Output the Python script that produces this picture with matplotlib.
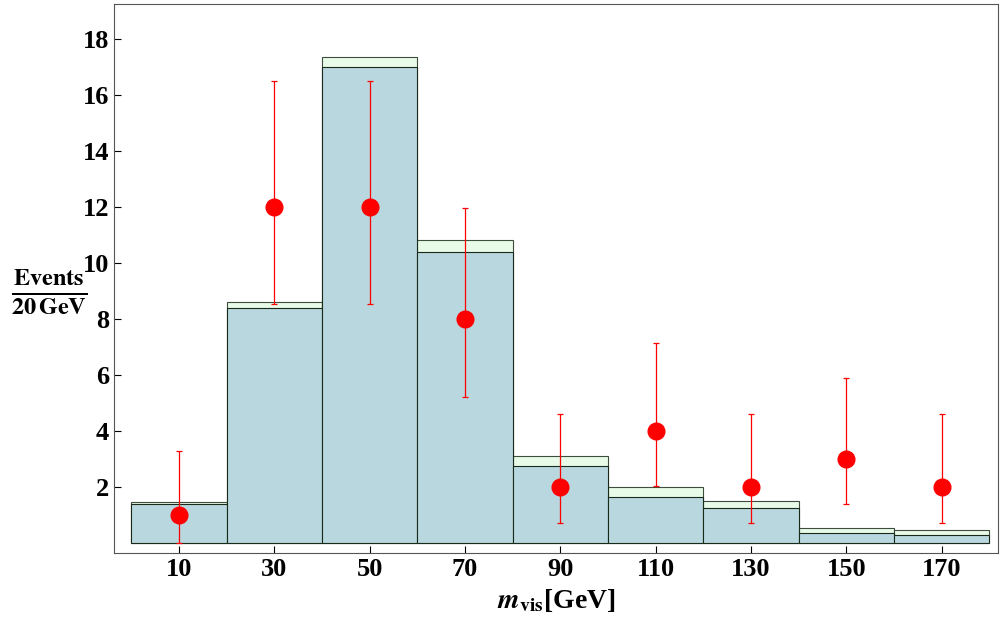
import matplotlib
matplotlib.use('Agg')
import matplotlib.pyplot as plt

# bin centres (GeV)
centres = [10, 30, 50, 70, 90, 110, 130, 150, 170]
# background and background+signal stacks
background = [1.4, 8.4, 17.0, 10.4, 2.75, 1.65, 1.25, 0.35, 0.3]
total = [1.45, 8.6, 17.35, 10.8, 3.1, 2.0, 1.5, 0.55, 0.45]
# observed events with asymmetric errors
observed = [1, 12, 12, 8, 2, 4, 2, 3, 2]
err_hi = [3.3, 16.5, 16.5, 11.95, 4.6, 7.15, 4.6, 5.9, 4.6]
err_lo = [0.0, 8.55, 8.55, 5.2, 0.7, 2.05, 0.7, 1.4, 0.7]

plt.rcParams['font.family'] = ['Liberation Serif', 'DejaVu Serif']
plt.rcParams['mathtext.fontset'] = 'stix'

fig = plt.figure(figsize=(10, 6.25), dpi=100)
ax = fig.add_axes([0.114, 0.115, 0.884, 0.879])

ax.bar(centres, total, width=20, color='#e6fbe6', edgecolor='#2a3a2a', linewidth=0.8, alpha=0.9)
ax.bar(centres, background, width=20, color='#b9d7de', edgecolor='#1a2a1a', linewidth=0.8)

lo = [o - l for o, l in zip(observed, err_lo)]
hi = [h - o for o, h in zip(observed, err_hi)]
ax.errorbar(centres, observed, yerr=[lo, hi], fmt='o', color='red', ms=12,
            elinewidth=0.9, capsize=2.5, capthick=0.9, zorder=5)

ax.set_xlim(-3.6, 181.8)
ax.set_ylim(-0.36, 19.25)
ax.set_xticks(centres)
ax.set_yticks([2, 4, 6, 8, 10, 12, 14, 16, 18])
ax.tick_params(direction='in', labelsize=19, width=0.8, length=5)
for lab in ax.get_xticklabels() + ax.get_yticklabels():
    lab.set_fontweight('bold')
for s in ax.spines.values():
    s.set_color('#555555')

ax.set_xlabel(r'$\boldsymbol{m}_{\mathbf{vis}}$[GeV]', fontsize=20, fontweight='bold')
ax.set_ylabel(r'$\mathbf{\frac{Events}{20\,GeV}}$', fontsize=25, rotation=0,
              ha='center', va='center')
ax.yaxis.set_label_coords(-0.073, 0.475)

fig.savefig('out.png')
